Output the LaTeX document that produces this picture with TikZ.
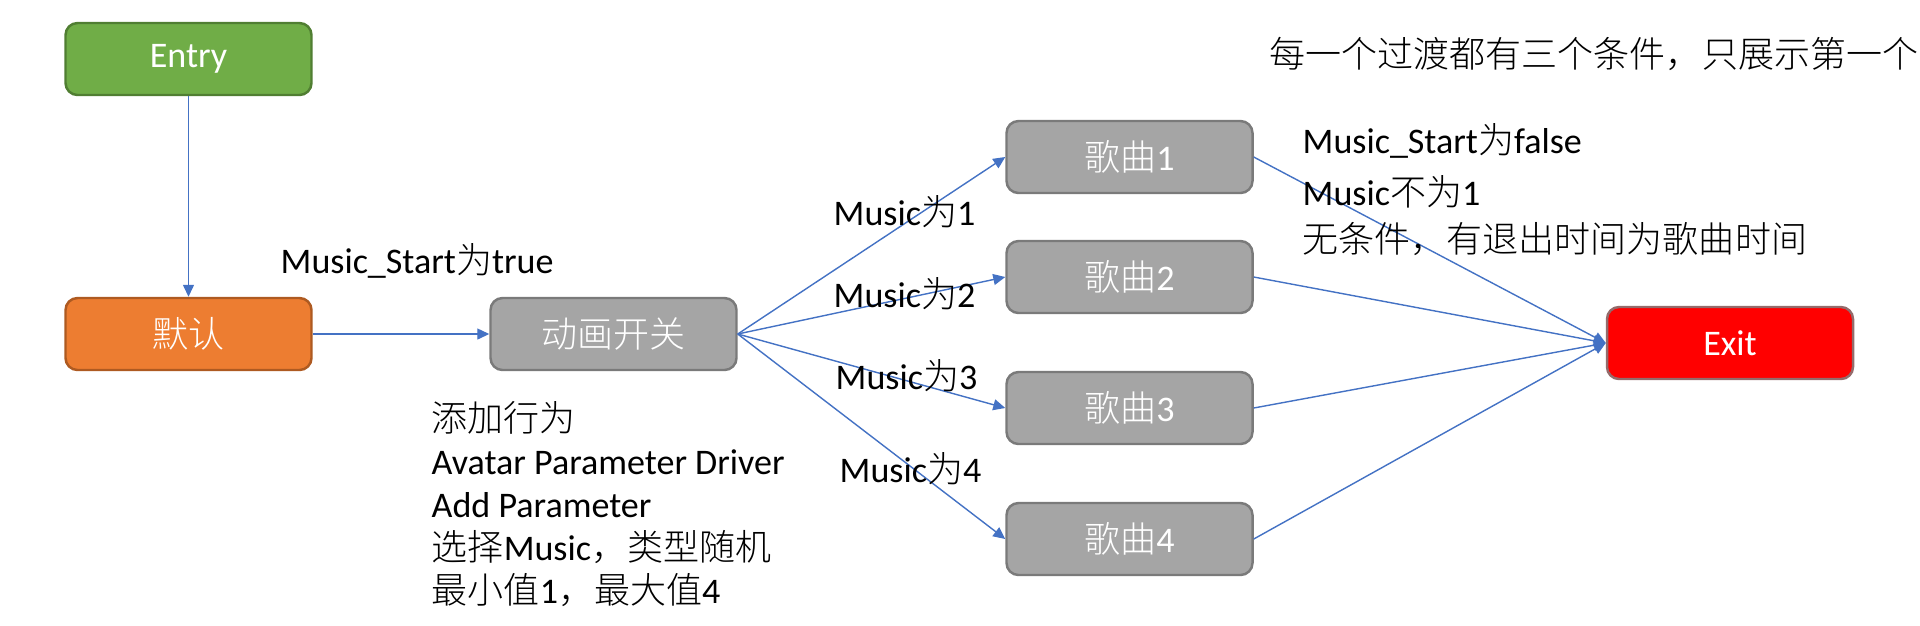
\documentclass[tikz,border=0pt]{standalone}
\usepackage{fontspec}
\setmainfont{Carlito}
\newfontfamily\cjkfont{Noto Sans CJK SC Light}
\usepackage{tikz}
\usetikzlibrary{arrows.meta,positioning,calc}

% switch to the CJK font for CJK characters
\XeTeXinterchartokenstate=1
\newXeTeXintercharclass\cjkclass
\count255="3000
\loop\ifnum\count255<"A000 \XeTeXcharclass\count255=\cjkclass \advance\count255 by 1 \repeat
\XeTeXcharclass"FF0C=\cjkclass
\XeTeXinterchartoks 0 \cjkclass={\cjkfont}
\XeTeXinterchartoks 4095 \cjkclass={\cjkfont}
\XeTeXinterchartoks \cjkclass 0={\rmfamily}

\definecolor{entryGreen}{HTML}{70AD47}
\definecolor{entryLine}{HTML}{507E32}
\definecolor{defaultOrange}{HTML}{ED7D31}
\definecolor{defaultLine}{HTML}{AE5A21}
\definecolor{stateGray}{HTML}{A5A5A5}
\definecolor{stateLine}{HTML}{7A7A7A}
\definecolor{exitRed}{HTML}{FF0000}
\definecolor{exitLine}{HTML}{946B6B}
\definecolor{arcBlue}{HTML}{4472C4}

\tikzset{
    state/.style={rectangle, rounded corners=0.12cm, line width=0.7pt, text=white,
        minimum width=2.46cm, minimum height=0.72cm, inner sep=0pt},
    arc/.style={-{Triangle[length=1.2mm,width=1.1mm]}, draw=arcBlue, fill=arcBlue, line width=0.4pt},
    cond/.style={inner sep=0pt, anchor=west}
}

\begin{document}
\begin{tikzpicture}[font=\fontsize{10.25pt}{12.3pt}\selectfont]
        \useasboundingbox (0,0) rectangle (19.2,6.25);

        % States
        \node[state, fill=entryGreen, draw=entryLine] (entry) at (1.885,5.66) {Entry};
        \node[state, fill=defaultOrange, draw=defaultLine] (default) at (1.885,2.91) {默认};
        \node[state, fill=stateGray, draw=stateLine] (toggle) at (6.135,2.91) {动画开关};

        % Song states
        \node[state, fill=stateGray, draw=stateLine] (song1) at (11.295,4.68) {歌曲1};
        \node[state, fill=stateGray, draw=stateLine] (song2) at (11.295,3.48) {歌曲2};
        \node[state, fill=stateGray, draw=stateLine] (song3) at (11.295,2.17) {歌曲3};
        \node[state, fill=stateGray, draw=stateLine] (song4) at (11.295,0.86) {歌曲4};

        % Exit state
        \node[state, fill=exitRed, draw=exitLine] (exit) at (17.30,2.82) {Exit};

        % Arcs between states
        \draw[arc] (entry) -- (default);
        \draw[arc] (default) -- (toggle);
        \draw[arc] (toggle.east) -- (song1.west);
        \draw[arc] (toggle.east) -- (song2.west);
        \draw[arc] (toggle.east) -- (song3.west);
        \draw[arc] (toggle.east) -- (song4.west);

        \draw[arc] (song1.east) -- (exit.west);
        \draw[arc] (song2.east) -- (exit.west);
        \draw[arc] (song3.east) -- (exit.west);
        \draw[arc] (song4.east) -- (exit.west);

        % Conditions
        \node[cond] (startTrue) at (2.80,3.64) {Music\_Start为true};
        \node[cond] (music1) at (8.33,4.13) {Music为1};
        \node[cond] (music2) at (8.33,3.31) {Music为2};
        \node[cond] (music3) at (8.35,2.49) {Music为3};
        \node[cond] (music4) at (8.39,1.56) {Music为4};

        % Conditions of the first song transition
        \node[cond, anchor=base west] (startFalse) at (13.02,4.72) {Music\_Start为false};
        \node[cond, anchor=base west] (notOne) at (13.02,4.20) {Music不为1};
        \node[cond, anchor=base west] (exitTime) at (13.02,3.73) {无条件，有退出时间为歌曲时间};

        % Notes
        \node[cond, anchor=north west, align=left, font=\fontsize{10.25pt}{0.43cm}\selectfont] (driver) at (4.31,2.24)
            {添加行为\\Avatar Parameter Driver\\Add Parameter\\选择Music，类型随机\\最小值1，最大值4};
        \node[cond] (note) at (12.69,5.71) {每一个过渡都有三个条件，只展示第一个};
\end{tikzpicture}
\end{document}
